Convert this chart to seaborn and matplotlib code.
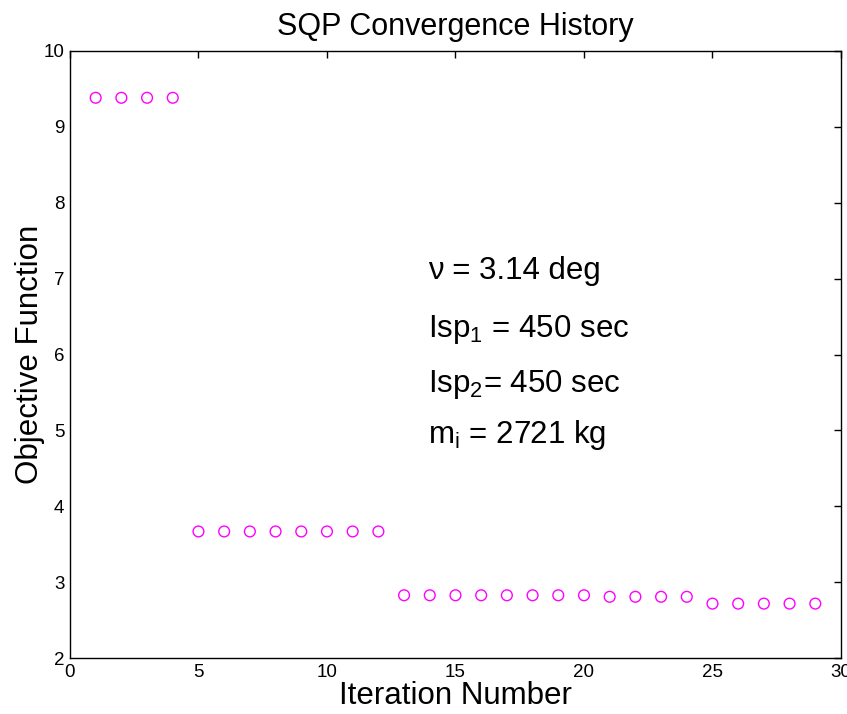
import matplotlib
matplotlib.use("Agg")
import matplotlib.pyplot as plt
import seaborn as sns
import pandas as pd

iterations = list(range(1, 30))
objective = [9.38, 9.38, 9.38, 9.38,
             3.67, 3.67, 3.67, 3.67, 3.67, 3.67, 3.67, 3.67,
             2.83, 2.83, 2.83, 2.83, 2.83, 2.83, 2.83, 2.83,
             2.81, 2.81, 2.81, 2.81,
             2.72, 2.72, 2.72, 2.72, 2.72]
annotations = ["ν = 3.14 deg", r"Isp$_1$ = 450 sec", r"Isp$_2$= 450 sec", r"m$_\mathregular{i}$ = 2721 kg"]
annot_y = [7.0, 6.23, 5.51, 4.84]

sns.set_style("white")
plt.rcParams['font.family'] = ['Liberation Sans', 'DejaVu Sans']
plt.rcParams['mathtext.fontset'] = 'custom'
plt.rcParams['mathtext.rm'] = 'Liberation Sans'
plt.rcParams['mathtext.it'] = 'Liberation Sans'
plt.rcParams['mathtext.default'] = 'regular'
plt.rcParams['text.color'] = 'black'
plt.rcParams['axes.labelcolor'] = 'black'

df = pd.DataFrame({"Iteration": iterations, "Objective": objective})

fig = plt.figure(figsize=(8.47, 7.14), dpi=100)
ax = fig.add_axes([0.0826, 0.078, 0.9103, 0.851])
sns.scatterplot(data=df, x="Iteration", y="Objective", ax=ax, marker='o',
                s=60, facecolors='none', edgecolor='#ff00ff', linewidth=1.0)

ax.set_xlim(0, 30)
ax.set_ylim(2, 10)
ax.set_xticks(range(0, 31, 5))
ax.set_yticks(range(2, 11))
ax.tick_params(direction='in', length=5, width=1, top=True, right=True,
               labelsize=13.5, colors='black', pad=4)
for s in ax.spines.values():
    s.set_color('black')
    s.set_linewidth(1.0)
ax.set_xlabel("Iteration Number", fontsize=22.5, labelpad=0)
ax.set_ylabel("Objective Function", fontsize=22.5, labelpad=-1)
ax.set_title("SQP Convergence History", fontsize=22, pad=11, color='black')

for t, y in zip(annotations, annot_y):
    ax.text(13.95, y, t, fontsize=22.5, va='baseline', ha='left', color='black')

fig.savefig("out.png", dpi=100)
